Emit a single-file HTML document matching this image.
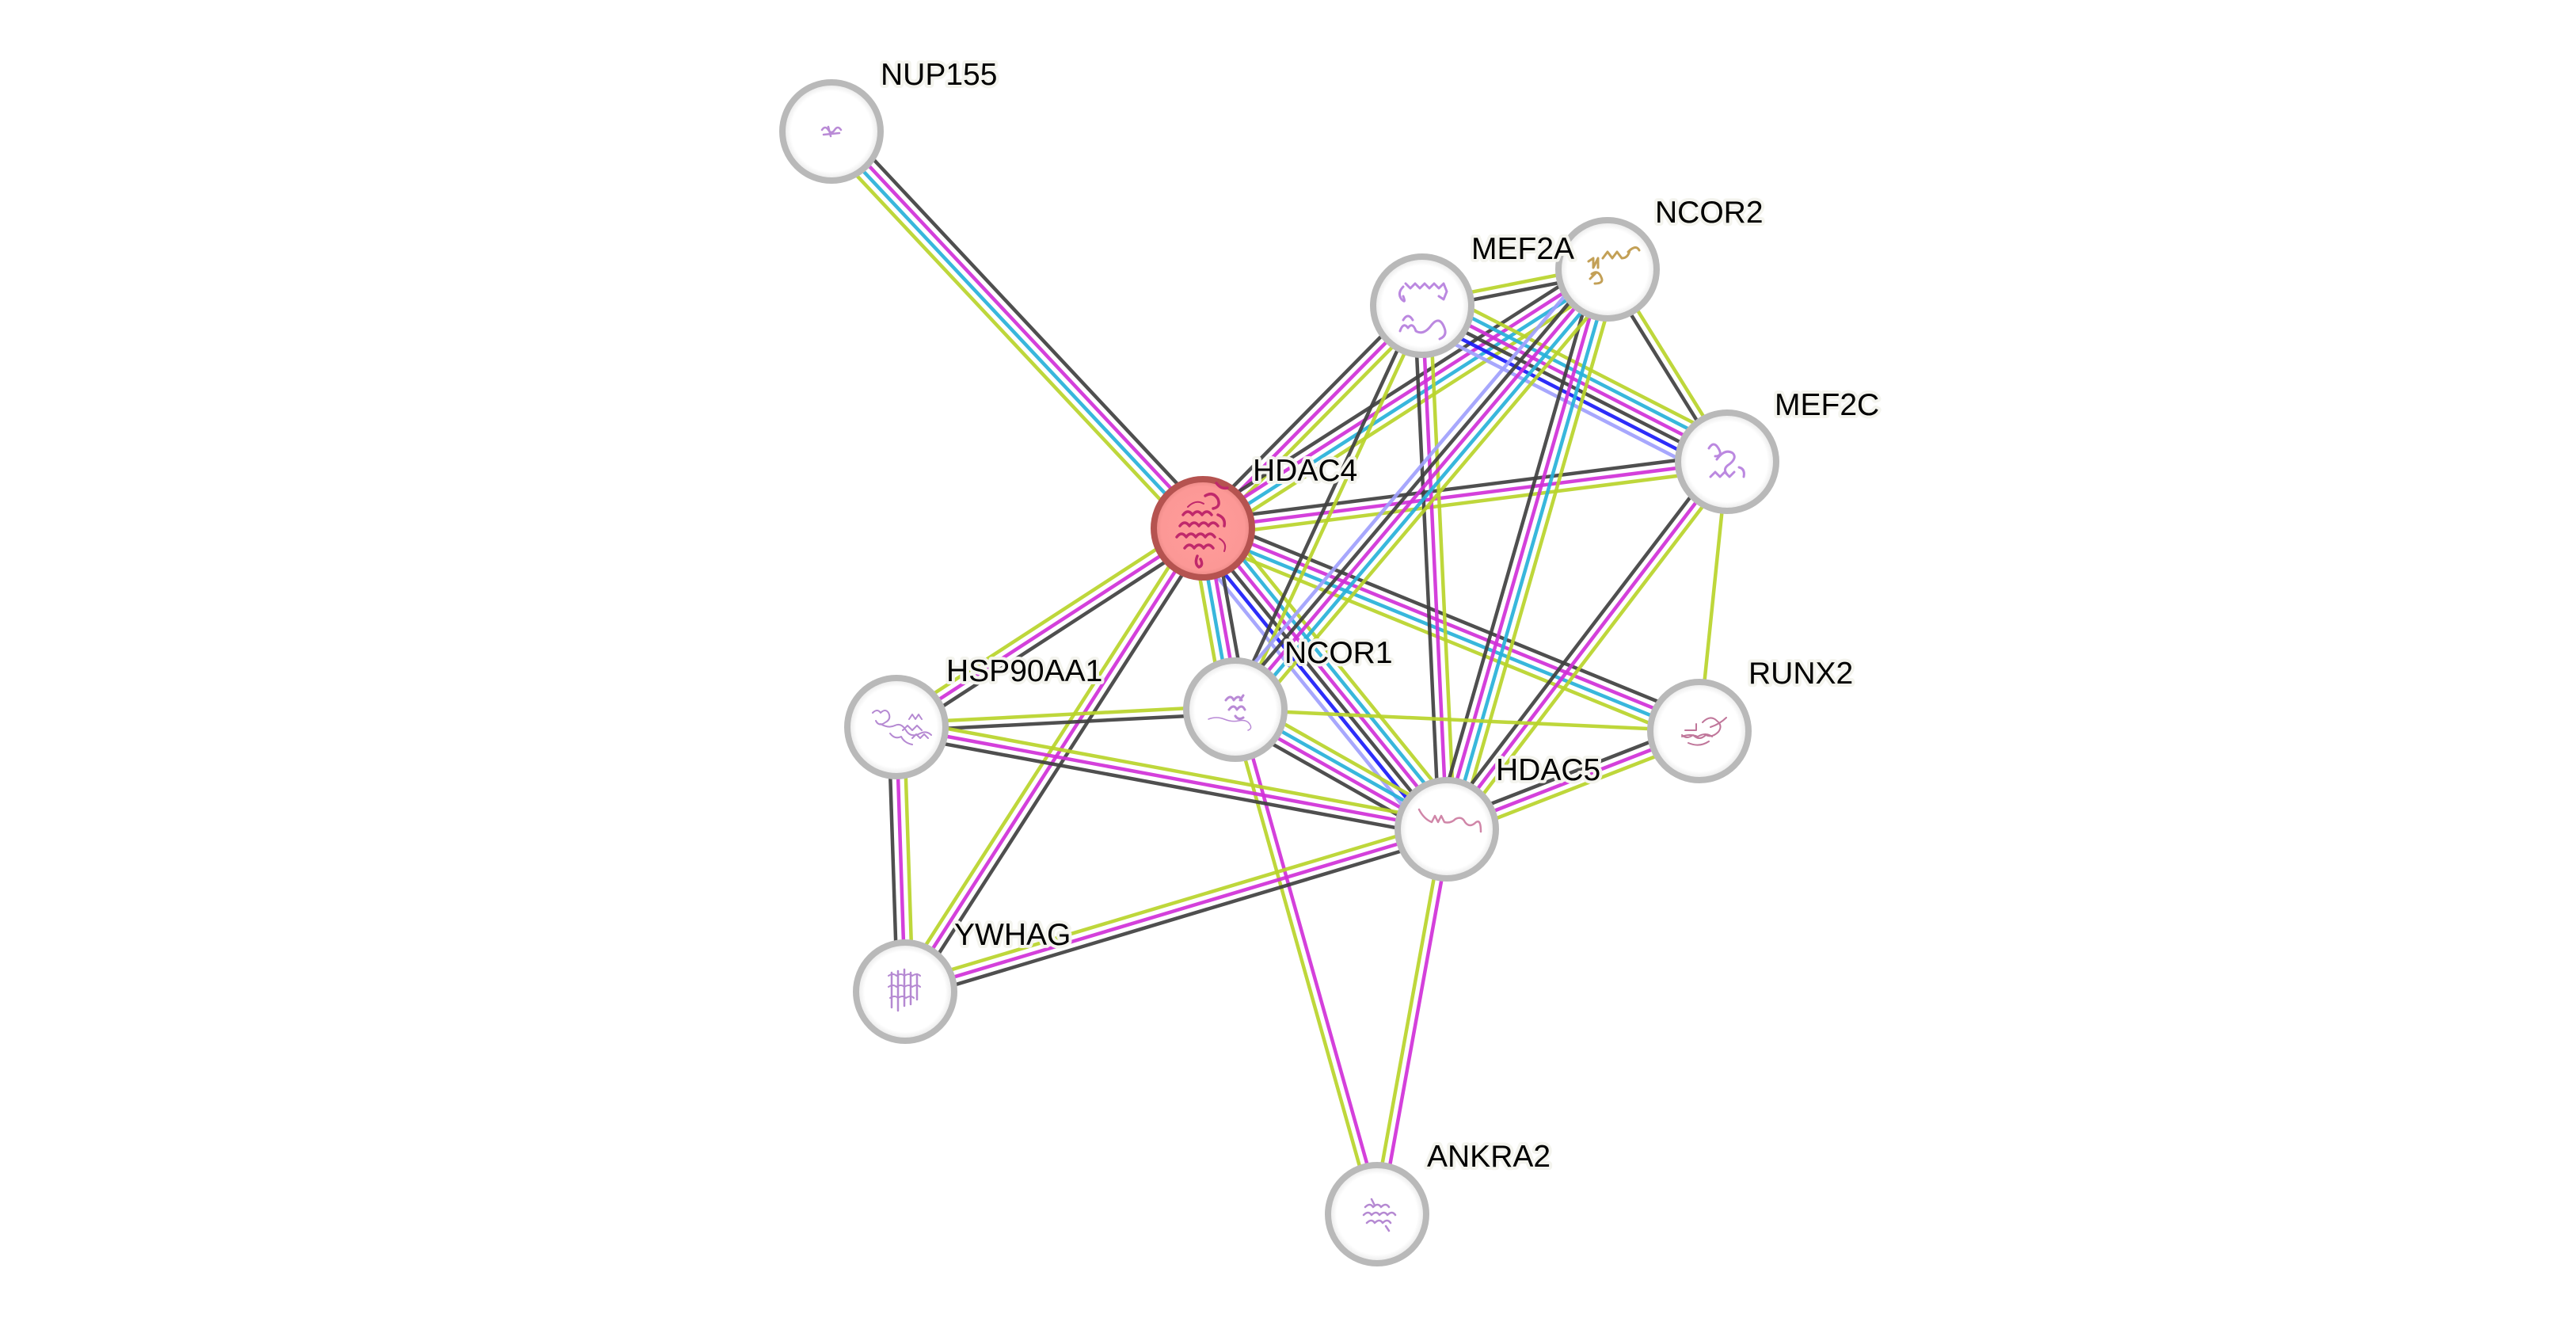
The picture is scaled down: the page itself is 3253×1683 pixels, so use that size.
<!DOCTYPE html>
<html>
<head>
<meta charset="utf-8">
<style>
  html,body{margin:0;padding:0;background:#ffffff;}
  svg{display:block;}
  .e line{stroke-width:4.5;stroke-opacity:0.92;fill:none;}
  .k{stroke:#404040;}
  .m{stroke:#d030d8;}
  .c{stroke:#27b1d9;}
  .g{stroke:#b8d42a;}
  .b{stroke:#1b1bf8;}
  .l{stroke:#9f9ffd;}
  .lbl{font-family:"Liberation Sans",Arial,sans-serif;font-size:39px;fill:#000;
       stroke:#f4f4ee;stroke-width:8px;stroke-linejoin:round;paint-order:stroke;}
  .node{fill:url(#ng);stroke:#b9b9b9;stroke-width:8;}
</style>
</head>
<body>
<svg width="3253" height="1683" viewBox="0 0 3253 1683" xmlns="http://www.w3.org/2000/svg">
<defs>
  <radialGradient id="ng" cx="0.5" cy="0.5" r="0.5">
    <stop offset="0" stop-color="#ffffff"/>
    <stop offset="0.82" stop-color="#ffffff"/>
    <stop offset="1" stop-color="#e4e4e4"/>
  </radialGradient>
  <radialGradient id="hg" cx="0.5" cy="0.5" r="0.5">
    <stop offset="0" stop-color="#ff9c9a"/>
    <stop offset="0.85" stop-color="#fc9896"/>
    <stop offset="1" stop-color="#e88683"/>
  </radialGradient>
</defs>
<rect width="3253" height="1683" fill="#ffffff"/>

<g class="e">
<!-- E1 NUP155-HDAC4 -->
<g transform="translate(1050,166) rotate(46.88)">
<line class="k" x1="0" y1="-14.7" x2="686.3" y2="-14.7"/><line class="m" x1="0" y1="-4.9" x2="686.3" y2="-4.9"/><line class="c" x1="0" y1="4.9" x2="686.3" y2="4.9"/><line class="g" x1="0" y1="14.7" x2="686.3" y2="14.7"/></g>
<!-- E2 HDAC4-MEF2A -->
<g transform="translate(1519,667) rotate(-45.41)">
<line class="k" x1="0" y1="-9.8" x2="394.6" y2="-9.8"/><line class="m" x1="0" y1="0" x2="394.6" y2="0"/><line class="g" x1="0" y1="9.8" x2="394.6" y2="9.8"/></g>
<!-- E3 HDAC4-NCOR2 -->
<g transform="translate(1519,667) rotate(-32.62)">
<line class="k" x1="0" y1="-14.7" x2="606.7" y2="-14.7"/><line class="m" x1="0" y1="-4.9" x2="606.7" y2="-4.9"/><line class="c" x1="0" y1="4.9" x2="606.7" y2="4.9"/><line class="g" x1="0" y1="14.7" x2="606.7" y2="14.7"/></g>
<!-- E4 HDAC4-MEF2C -->
<g transform="translate(1519,667) rotate(-7.23)">
<line class="k" x1="0" y1="-9.8" x2="667.3" y2="-9.8"/><line class="m" x1="0" y1="0" x2="667.3" y2="0"/><line class="g" x1="0" y1="9.8" x2="667.3" y2="9.8"/></g>
<!-- E5 HDAC4-RUNX2 -->
<g transform="translate(1519,667) rotate(22.21)">
<line class="k" x1="0" y1="-14.7" x2="677.2" y2="-14.7"/><line class="m" x1="0" y1="-4.9" x2="677.2" y2="-4.9"/><line class="c" x1="0" y1="4.9" x2="677.2" y2="4.9"/><line class="g" x1="0" y1="14.7" x2="677.2" y2="14.7"/></g>
<!-- E6 HDAC4-HDAC5 -->
<g transform="translate(1519,667) rotate(50.97)">
<line class="g" x1="0" y1="-24.5" x2="489.1" y2="-24.5"/><line class="c" x1="0" y1="-14.7" x2="489.1" y2="-14.7"/><line class="m" x1="0" y1="-4.9" x2="489.1" y2="-4.9"/><line class="k" x1="0" y1="4.9" x2="489.1" y2="4.9"/><line class="b" x1="0" y1="14.7" x2="489.1" y2="14.7"/><line class="l" x1="0" y1="24.5" x2="489.1" y2="24.5"/></g>
<!-- E7 HDAC4-NCOR1 -->
<g transform="translate(1519,667) rotate(79.85)">
<line class="k" x1="0" y1="-14.7" x2="232.6" y2="-14.7"/><line class="m" x1="0" y1="-4.9" x2="232.6" y2="-4.9"/><line class="c" x1="0" y1="4.9" x2="232.6" y2="4.9"/><line class="g" x1="0" y1="14.7" x2="232.6" y2="14.7"/></g>
<!-- E8 HSP90AA1-HDAC4 -->
<g transform="translate(1132,918) rotate(-32.97)">
<line class="g" x1="0" y1="-9.8" x2="461.3" y2="-9.8"/><line class="m" x1="0" y1="0" x2="461.3" y2="0"/><line class="k" x1="0" y1="9.8" x2="461.3" y2="9.8"/></g>
<!-- E9 YWHAG-HDAC4 -->
<g transform="translate(1143,1252) rotate(-57.27)">
<line class="g" x1="0" y1="-9.8" x2="695.4" y2="-9.8"/><line class="m" x1="0" y1="0" x2="695.4" y2="0"/><line class="k" x1="0" y1="9.8" x2="695.4" y2="9.8"/></g>
<!-- E10 MEF2A-NCOR2 -->
<g transform="translate(1796,386) rotate(-11.12)">
<line class="g" x1="0" y1="-4.9" x2="238.5" y2="-4.9"/><line class="k" x1="0" y1="4.9" x2="238.5" y2="4.9"/></g>
<!-- E11 MEF2A-MEF2C -->
<g transform="translate(1796,386) rotate(27.10)">
<line class="g" x1="0" y1="-24.5" x2="432.5" y2="-24.5"/><line class="c" x1="0" y1="-14.7" x2="432.5" y2="-14.7"/><line class="m" x1="0" y1="-4.9" x2="432.5" y2="-4.9"/><line class="k" x1="0" y1="4.9" x2="432.5" y2="4.9"/><line class="b" x1="0" y1="14.7" x2="432.5" y2="14.7"/><line class="l" x1="0" y1="24.5" x2="432.5" y2="24.5"/></g>
<!-- E12 MEF2A-HDAC5 -->
<g transform="translate(1796,386) rotate(87.31)">
<line class="g" x1="0" y1="-9.8" x2="661.7" y2="-9.8"/><line class="m" x1="0" y1="0" x2="661.7" y2="0"/><line class="k" x1="0" y1="9.8" x2="661.7" y2="9.8"/></g>
<!-- E13 NCOR1-MEF2A -->
<g transform="translate(1560,896) rotate(-65.17)">
<line class="k" x1="0" y1="-4.9" x2="562" y2="-4.9"/><line class="g" x1="0" y1="4.9" x2="562" y2="4.9"/></g>
<!-- E14 NCOR2-MEF2C -->
<g transform="translate(2030,340) rotate(58.15)">
<line class="g" x1="0" y1="-4.9" x2="286.1" y2="-4.9"/><line class="k" x1="0" y1="4.9" x2="286.1" y2="4.9"/></g>
<!-- E15 HDAC5-NCOR2 -->
<g transform="translate(1827,1047) rotate(-73.98)">
<line class="k" x1="0" y1="-14.7" x2="735.6" y2="-14.7"/><line class="m" x1="0" y1="-4.9" x2="735.6" y2="-4.9"/><line class="c" x1="0" y1="4.9" x2="735.6" y2="4.9"/><line class="g" x1="0" y1="14.7" x2="735.6" y2="14.7"/></g>
<!-- E16 NCOR1-NCOR2 -->
<g transform="translate(1560,896) rotate(-49.79)">
<line class="l" x1="0" y1="-19.6" x2="728" y2="-19.6"/><line class="k" x1="0" y1="-9.8" x2="728" y2="-9.8"/><line class="m" x1="0" y1="0" x2="728" y2="0"/><line class="c" x1="0" y1="9.8" x2="728" y2="9.8"/><line class="g" x1="0" y1="19.6" x2="728" y2="19.6"/></g>
<!-- E17 HDAC5-MEF2C -->
<g transform="translate(1827,1047) rotate(-52.67)">
<line class="k" x1="0" y1="-9.8" x2="583.6" y2="-9.8"/><line class="m" x1="0" y1="0" x2="583.6" y2="0"/><line class="g" x1="0" y1="9.8" x2="583.6" y2="9.8"/></g>
<!-- E18 RUNX2-MEF2C -->
<g transform="translate(2146,923) rotate(-84.12)">
<line class="g" x1="0" y1="0" x2="341.8" y2="0"/></g>
<!-- E19 HSP90AA1-NCOR1 -->
<g transform="translate(1132,918) rotate(-2.94)">
<line class="g" x1="0" y1="-4.9" x2="428.6" y2="-4.9"/><line class="k" x1="0" y1="4.9" x2="428.6" y2="4.9"/></g>
<!-- E20 NCOR1-RUNX2 -->
<g transform="translate(1560,896) rotate(2.64)">
<line class="g" x1="0" y1="0" x2="586.6" y2="0"/></g>
<!-- E21 NCOR1-HDAC5 -->
<g transform="translate(1560,896) rotate(29.49)">
<line class="g" x1="0" y1="-14.7" x2="306.7" y2="-14.7"/><line class="c" x1="0" y1="-4.9" x2="306.7" y2="-4.9"/><line class="m" x1="0" y1="4.9" x2="306.7" y2="4.9"/><line class="k" x1="0" y1="14.7" x2="306.7" y2="14.7"/></g>
<!-- E22 NCOR1-ANKRA2 -->
<g transform="translate(1560,896) rotate(74.30)">
<line class="m" x1="0" y1="-4.9" x2="661.7" y2="-4.9"/><line class="g" x1="0" y1="4.9" x2="661.7" y2="4.9"/></g>
<!-- E23 HSP90AA1-HDAC5 -->
<g transform="translate(1132,918) rotate(10.52)">
<line class="g" x1="0" y1="-9.8" x2="706.9" y2="-9.8"/><line class="m" x1="0" y1="0" x2="706.9" y2="0"/><line class="k" x1="0" y1="9.8" x2="706.9" y2="9.8"/></g>
<!-- E24 HSP90AA1-YWHAG -->
<g transform="translate(1132,918) rotate(88.11)">
<line class="g" x1="0" y1="-9.8" x2="334.2" y2="-9.8"/><line class="m" x1="0" y1="0" x2="334.2" y2="0"/><line class="k" x1="0" y1="9.8" x2="334.2" y2="9.8"/></g>
<!-- E25 YWHAG-HDAC5 -->
<g transform="translate(1143,1252) rotate(-16.68)">
<line class="g" x1="0" y1="-9.8" x2="714.1" y2="-9.8"/><line class="m" x1="0" y1="0" x2="714.1" y2="0"/><line class="k" x1="0" y1="9.8" x2="714.1" y2="9.8"/></g>
<!-- E26 HDAC5-RUNX2 -->
<g transform="translate(1827,1047) rotate(-21.24)">
<line class="k" x1="0" y1="-9.8" x2="342.3" y2="-9.8"/><line class="m" x1="0" y1="0" x2="342.3" y2="0"/><line class="g" x1="0" y1="9.8" x2="342.3" y2="9.8"/></g>
<!-- E27 ANKRA2-HDAC5 -->
<g transform="translate(1739,1533) rotate(-79.74)">
<line class="g" x1="0" y1="-4.9" x2="493.9" y2="-4.9"/><line class="m" x1="0" y1="4.9" x2="493.9" y2="4.9"/></g>
</g>

<!-- Nodes -->
<g>
<circle class="node" cx="1050" cy="166" r="62"/>
<circle class="node" cx="1796" cy="386" r="62"/>
<circle class="node" cx="2030" cy="340" r="62"/>
<circle class="node" cx="2181" cy="583" r="62"/>
<circle class="node" cx="1132" cy="918" r="62"/>
<circle class="node" cx="1560" cy="896" r="62"/>
<circle class="node" cx="2146" cy="923" r="62"/>
<circle class="node" cx="1827" cy="1047" r="62"/>
<circle class="node" cx="1143" cy="1252" r="62"/>
<circle class="node" cx="1739" cy="1533" r="62"/>
<circle cx="1519" cy="667" r="62" fill="url(#hg)" stroke="#b55350" stroke-width="8"/>
</g>

<!-- Protein structure doodles -->
<g fill="none" stroke-linecap="round" stroke-linejoin="round">
  <g stroke="#b98ad6" stroke-width="2.5">
    <path d="M1038 164 q4 -6 8 0 q4 6 8 0 q4 -6 8 0 M1040 170 l20 -2 M1046 160 l3 12"/>
  </g>
  <g stroke="#bb88e0" stroke-width="3">
    <path d="M1772 362 q-8 8 -2 16 q6 6 2 -4"/>
    <path d="M1775 358 l6 6 l6 -6 l6 6 l6 -6 l6 6 l6 -6 l6 6 l6 -6 l4 10 l-4 10 l-6 -4"/>
    <path d="M1768 418 q4 -12 10 -4 q6 -8 10 4 q10 6 20 -8 q10 -12 16 4 q4 10 -6 14"/>
    <path d="M1772 404 q6 -10 12 0"/>
  </g>
  <g stroke="#c3a056" stroke-width="3">
    <path d="M2006 330 l6 -4 l0 12 l6 -12 l0 12 M2010 346 q8 -6 12 4 q4 8 -8 8 M2024 326 l6 -8 l6 8 l6 -8 l6 8 q8 0 10 -10 M2056 318 q10 -10 14 -2 M2008 352 l8 -8"/>
  </g>
  <g stroke="#bb88e0" stroke-width="3">
    <path d="M2158 566 q6 -10 12 0 q6 10 -4 10 M2168 580 q10 -14 20 -8 q6 6 -4 14 q-10 6 -2 14 M2160 602 l6 -6 l6 6 l6 -6 l6 6 l6 -6 M2196 590 q8 2 6 12"/>
  </g>
  <g stroke="#c0286b" stroke-width="3.5">
    <path d="M1494 650 q6 -8 12 0 q6 -8 12 0 q6 -8 12 0 M1490 664 q6 -8 12 0 q6 -8 12 0 q6 -8 12 0 q6 -8 12 0 M1486 678 q6 -8 12 0 q6 -8 12 0 q6 -8 12 0 q6 -8 12 0 M1496 692 q6 -8 12 0 q6 -8 12 0 q6 -8 12 0 M1522 626 q10 -6 16 4 q4 10 -6 12 M1538 650 q10 4 8 14 M1512 702 q-4 10 2 14 q6 -2 2 -10 M1536 610 q6 8 14 6"/>
    <path d="M1500 640 q10 -10 20 -4 M1540 680 q10 6 6 16" stroke-width="2"/>
  </g>
  <g stroke="#b589d2" stroke-width="2">
    <path d="M1102 900 q6 -6 10 0 q6 -6 10 0 q4 8 -4 12 q-8 6 -12 -2 M1112 914 q10 6 18 2 q8 -4 14 6 q6 10 18 4 q8 -4 14 2 M1140 922 l6 -6 l6 6 l6 -6 l6 6 M1152 932 l5 -5 l5 5 l5 -5 l5 5 M1124 926 q6 8 14 4 q4 8 14 10 M1148 908 l4 -6 l4 6 l4 -6 l4 6"/>
  </g>
  <g stroke="#b98ad6" stroke-width="3">
    <path d="M1548 884 q6 -8 10 0 q6 -8 10 0 M1552 896 q6 -8 10 0 q6 -8 10 0 M1566 884 l4 -6 M1560 904 q4 6 10 2"/>
    <path d="M1526 908 q10 -4 20 0 q10 4 18 2 q10 -2 14 4 q4 6 -2 8" stroke-width="1.5"/>
  </g>
  <g stroke="#c0769a" stroke-width="2">
    <path d="M2124 930 q10 -4 20 0 q10 -6 18 0 M2128 922 l14 0 l0 -8 M2150 912 q10 -10 18 -2 q8 6 2 14 q-8 8 -16 4 q-8 8 -16 0 q-8 6 -14 0 M2160 918 q12 -4 20 -12 M2132 938 q14 6 26 -2"/>
  </g>
  <g stroke="#d086a8" stroke-width="2.5">
    <path d="M1792 1022 q6 12 16 16 l4 -8 l4 8 l4 -8 l4 8 q8 2 14 -4 q8 -4 12 4 q6 8 14 0 q6 -4 6 12"/>
  </g>
  <g stroke="#b589d2" stroke-width="2.5">
    <path d="M1126 1228 l0 44 M1134 1226 l0 50 M1142 1224 l0 46 M1150 1228 l0 40 M1158 1230 l0 32"/>
    <path d="M1122 1232 q6 -4 10 0 q6 -4 10 0 q6 -4 10 0 q6 -4 10 0 M1122 1246 q6 -4 10 0 q6 -4 10 0 q6 -4 10 0 q6 -4 10 0 M1124 1260 q6 -4 10 0 q6 -4 10 0 q6 -4 10 0" stroke-width="2"/>
  </g>
  <g stroke="#b589d2" stroke-width="2.5">
    <path d="M1724 1524 q6 -6 10 0 q6 -6 10 0 q6 -6 10 0 M1722 1534 q6 -6 10 0 q6 -6 10 0 q6 -6 10 0 q6 -6 10 0 M1726 1544 q6 -6 10 0 q6 -6 10 0 q6 -6 10 0 M1732 1514 l4 8 M1750 1548 l4 6"/>
  </g>
</g>

<!-- Labels -->
<g class="lbl">
<text x="1112" y="107">NUP155</text>
<text x="1858" y="327">MEF2A</text>
<text x="2090" y="281">NCOR2</text>
<text x="2241" y="524">MEF2C</text>
<text x="1582" y="607">HDAC4</text>
<text x="1622" y="837">NCOR1</text>
<text x="1195" y="860">HSP90AA1</text>
<text x="2208" y="863">RUNX2</text>
<text x="1889" y="985">HDAC5</text>
<text x="1205" y="1193">YWHAG</text>
<text x="1802" y="1473">ANKRA2</text>
</g>
</svg>
</body>
</html>
